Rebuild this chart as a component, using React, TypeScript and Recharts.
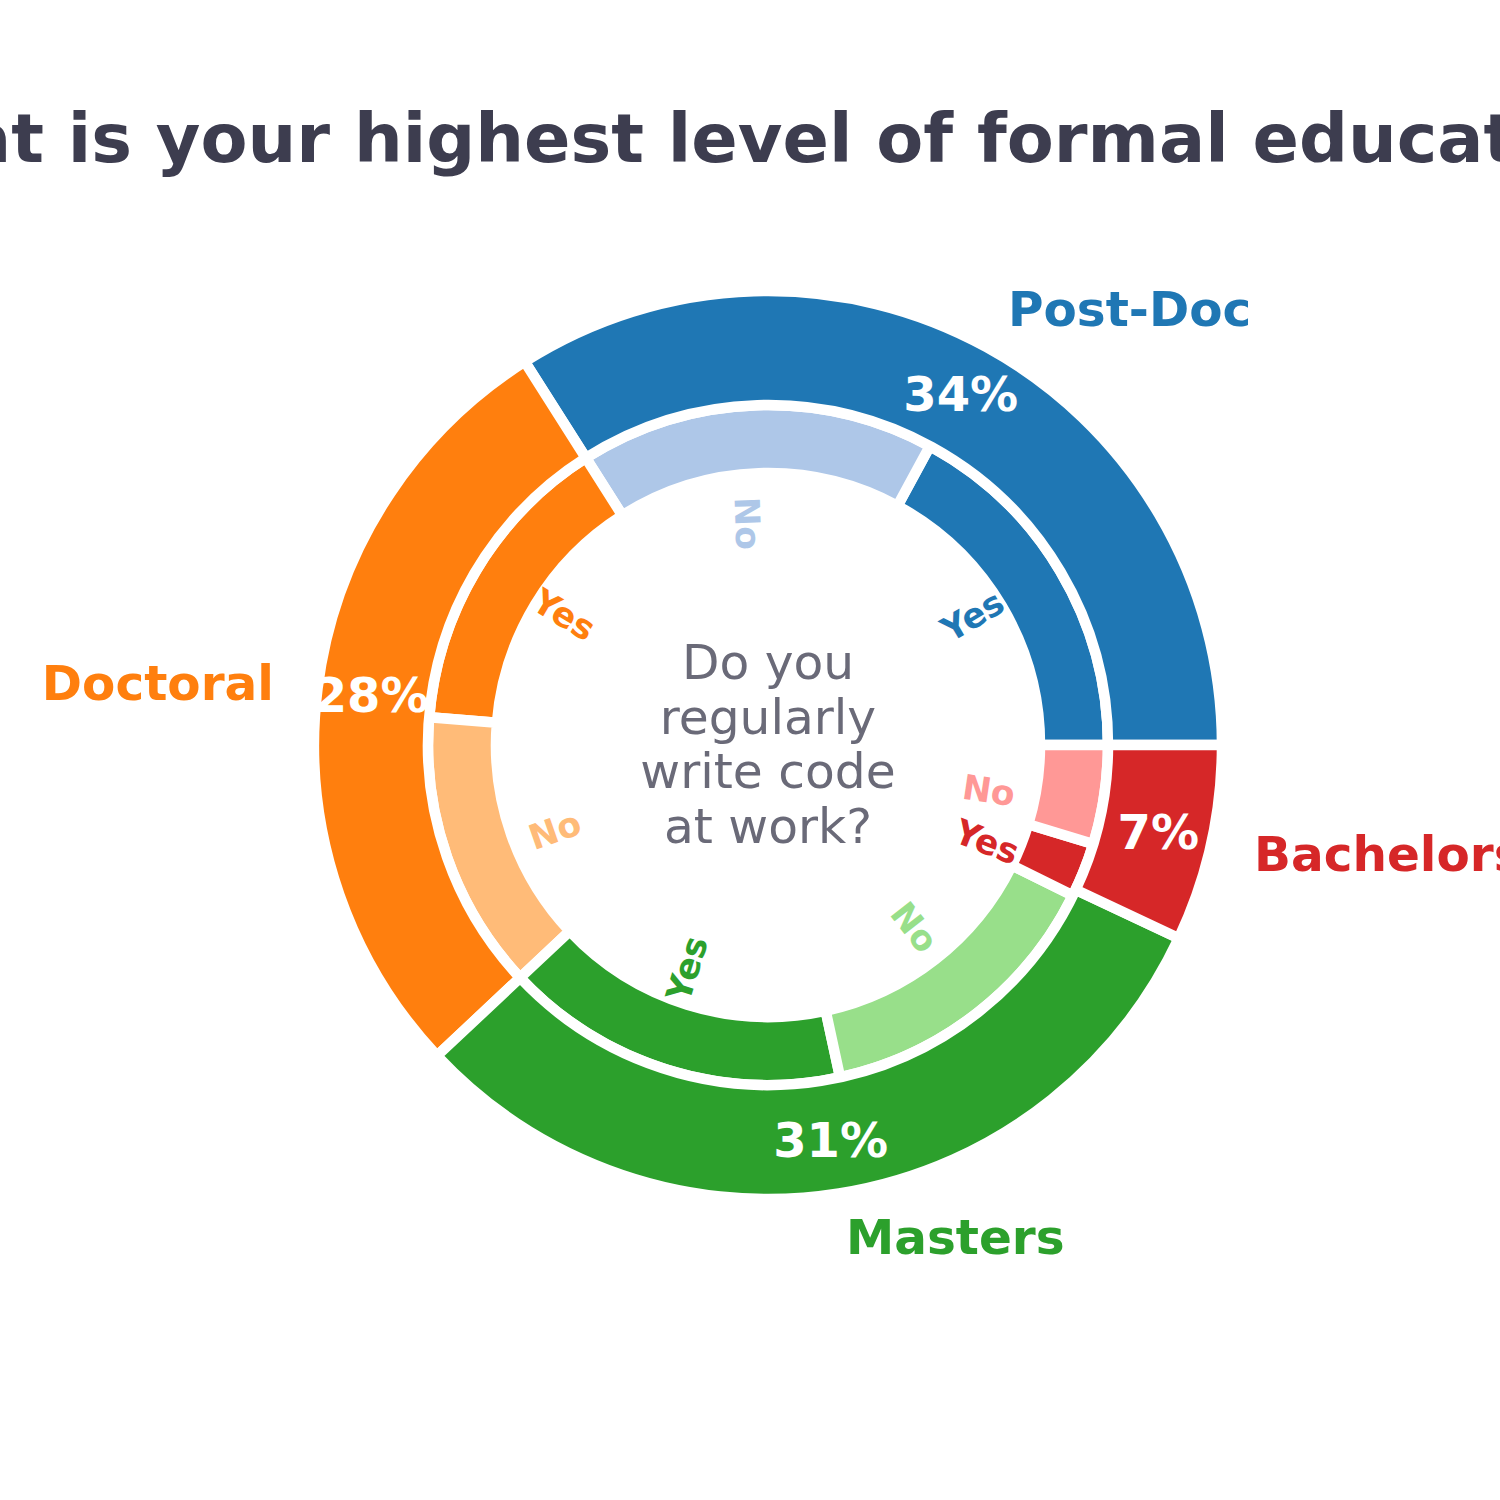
import React from 'react';
import { PieChart, Pie, Cell } from 'recharts';

const educationLevels = ['Post-Doc', 'Doctoral', 'Masters', 'Bachelors'];
const educationShares = [34, 28, 31, 7];
const educationColors = ['#1f77b4', '#ff7f0e', '#2ca02c', '#d62728'];

const codeAnswers = ['Yes', 'No'];
const codeShares = [17.1, 16.9, 14.7, 13.3, 16.4, 14.3, 2.6, 4.7];
const codeColors = ['#1f77b4', '#aec7e8', '#ff7f0e', '#ffbb78', '#2ca02c', '#98df8a', '#d62728', '#ff9896'];

const titleText = 'What is your highest level of formal education?';
const centerLines = ['Do you', 'regularly', 'write code', 'at work?'];

const outerData = educationLevels.map((name, i) => ({ name, value: educationShares[i] }));
const innerData = codeShares.map((value, i) => ({
  name: codeAnswers[i % 2],
  group: educationLevels[Math.floor(i / 2)],
  value,
}));

const FONT = '"DejaVu Sans", sans-serif';
const CX = 768;
const CY = 745;
const EDGE = 10.5;

const boldWidths: Record<string, number> = { Y: 0.774, e: 0.678, s: 0.595, N: 0.837, o: 0.687 };
const textWidthEm = (s: string) => s.split('').reduce((a, c) => a + (boldWidths[c] ?? 0.65), 0);

const renderOuterLabel = (props: any) => {
  const { cx, cy, midAngle, percent, index, name } = props;
  const rad = (midAngle * Math.PI) / 180;
  const px = cx + 400 * Math.cos(rad);
  const py = cy - 400 * Math.sin(rad);
  const lx = cx + 498 * Math.cos(rad);
  const ly = cy - 498 * Math.sin(rad);
  return (
    <g key={`ol-${index}`}>
      <text x={px} y={py} textAnchor="middle" dominantBaseline="central" fill="#ffffff" fontSize={48} fontWeight="bold" fontFamily={FONT}>
        {`${Math.round(percent * 100)}%`}
      </text>
      <text x={lx} y={ly} textAnchor={Math.cos(rad) > 0 ? 'start' : 'end'} dominantBaseline="central" fill={educationColors[index]} fontSize={48.5} fontWeight="bold" fontFamily={FONT}>
        {name}
      </text>
    </g>
  );
};

const renderInnerLabel = (props: any) => {
  const { cx, cy, midAngle, index, name } = props;
  const fs = 34.5;
  const rad = (midAngle * Math.PI) / 180;
  const ax = 195 * Math.cos(rad);
  const ay = 195 * Math.sin(rad);
  const rot = midAngle + (ax > 0 ? 0 : 180);
  const L = textWidthEm(name) * fs;
  const H = 26;
  const r = (rot * Math.PI) / 180;
  const bw = Math.abs(L * Math.cos(r)) + Math.abs(H * Math.sin(r));
  const bh = Math.abs(L * Math.sin(r)) + Math.abs(H * Math.cos(r));
  const mx = ax + (ax > 0 ? bw / 2 : -bw / 2);
  const my = ay + (ay > 0 ? bh / 2 : -bh / 2);
  const sx = cx + mx;
  const sy = cy - my;
  return (
    <text
      key={`il-${index}`}
      x={sx}
      y={sy}
      transform={`rotate(${-rot} ${sx} ${sy})`}
      textAnchor="middle"
      dominantBaseline="central"
      fill={codeColors[index]}
      fontSize={fs}
      fontWeight="bold"
      fontFamily={FONT}
    >
      {name}
    </text>
  );
};

export default function App() {
  return (
    <div style={{ position: 'absolute', left: 0, top: 0, width: 1500, height: 1500, background: '#ffffff' }}>
      <PieChart width={1500} height={1500} margin={{ top: 0, right: 0, bottom: 0, left: 0 }}>
        <text x={758} y={162} textAnchor="middle" fill="#3d3d4f" fontSize={68.5} fontWeight="bold" fontFamily={FONT}>
          {titleText}
        </text>
        <Pie
          data={innerData}
          dataKey="value"
          nameKey="name"
          cx={CX}
          cy={CY}
          outerRadius={340}
          innerRadius={272}
          startAngle={0}
          endAngle={360}
          stroke="#ffffff"
          strokeWidth={EDGE}
          label={renderInnerLabel}
          labelLine={false}
          isAnimationActive={false}
        >
          {innerData.map((d, i) => (
            <Cell key={`ic-${i}`} fill={codeColors[i]} stroke="#ffffff" strokeWidth={EDGE} />
          ))}
        </Pie>
        <Pie
          data={outerData}
          dataKey="value"
          nameKey="name"
          cx={CX}
          cy={CY}
          outerRadius={454}
          innerRadius={340}
          startAngle={0}
          endAngle={360}
          stroke="#ffffff"
          strokeWidth={EDGE}
          label={renderOuterLabel}
          labelLine={false}
          isAnimationActive={false}
        >
          {outerData.map((d, i) => (
            <Cell key={`oc-${i}`} fill={educationColors[i]} stroke="#ffffff" strokeWidth={EDGE} />
          ))}
        </Pie>
        <text x={CX} y={679} textAnchor="middle" fill="#6a6a78" fontSize={48.7} fontFamily={FONT}>
          {centerLines.map((line, i) => (
            <tspan key={line} x={CX} y={679 + i * 54.5}>
              {line}
            </tspan>
          ))}
        </text>
      </PieChart>
    </div>
  );
}
